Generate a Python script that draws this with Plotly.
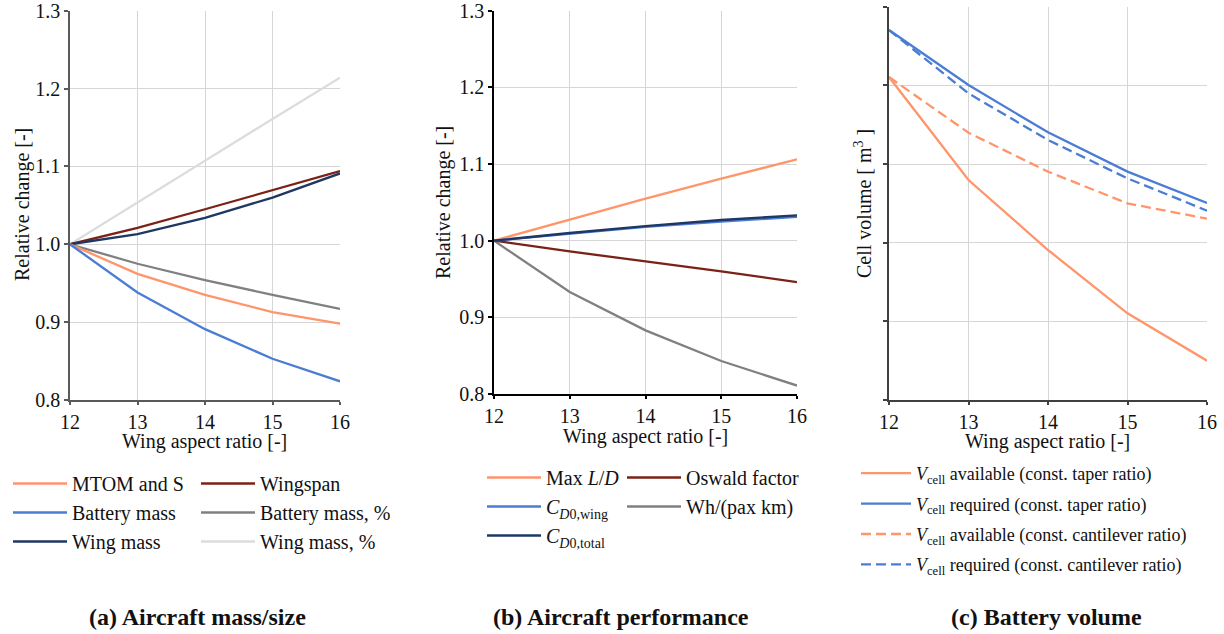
import plotly.graph_objects as go

# ---------------- data ----------------
aspect_ratio = [12, 13, 14, 15, 16]

# (a) Aircraft mass/size
mtom_and_s = [1.0, 0.962, 0.935, 0.913, 0.898]
battery_mass = [1.0, 0.938, 0.891, 0.853, 0.824]
wing_mass = [1.0, 1.013, 1.034, 1.060, 1.091]
wingspan = [1.0, 1.021, 1.045, 1.070, 1.094]
battery_mass_pct = [1.0, 0.975, 0.954, 0.935, 0.917]
wing_mass_pct = [1.0, 1.054, 1.107, 1.161, 1.214]

# (b) Aircraft performance
max_ld = [1.0, 1.028, 1.055, 1.081, 1.106]
cd0_wing = [1.0, 1.009, 1.018, 1.025, 1.031]
cd0_total = [1.0, 1.010, 1.019, 1.027, 1.033]
oswald = [1.0, 0.986, 0.973, 0.960, 0.946]
wh_pax_km = [1.0, 0.933, 0.883, 0.843, 0.811]

# (c) Battery volume (arbitrary units, no tick labels shown)
v_avail_taper = [4.106, 2.797, 1.907, 1.102, 0.500]
v_req_taper = [4.703, 4.004, 3.403, 2.903, 2.504]
v_avail_cant = [4.106, 3.398, 2.903, 2.500, 2.305]
v_req_cant = [4.703, 3.898, 3.305, 2.818, 2.407]

xticks = [12, 13, 14, 15, 16]
rel_ticks = [0.8, 0.9, 1.0, 1.1, 1.2, 1.3]

# ---------------- styles ----------------
ORANGE = "#FF956A"
BLUE = "#4A7DD3"
NAVY = "#1F3763"
DRED = "#7B2216"
GREY = "#808080"
LGREY = "#DCDCDC"
FONT = "Liberation Serif, Times New Roman, DejaVu Serif, serif"
TXT = "#111111"
DASH = "10px,5px"

W, H = 1224, 634

fig = go.Figure()
_g = [0]


def add(x, y, name, color, xa, ya, legend, dash="solid"):
    _g[0] += 1
    fig.add_trace(go.Scatter(
        x=x, y=y, mode="lines", name=name,
        line=dict(color=color, width=2.3, dash=dash),
        xaxis=xa, yaxis=ya, legend=legend, legendgroup="g%d" % _g[0],
    ))


# panel (a)
add(aspect_ratio, wing_mass_pct, "Wing mass, %", LGREY, "x", "y", "legend2")
add(aspect_ratio, battery_mass_pct, "Battery mass, %", GREY, "x", "y", "legend2")
add(aspect_ratio, wingspan, "Wingspan", DRED, "x", "y", "legend2")
add(aspect_ratio, wing_mass, "Wing mass", NAVY, "x", "y", "legend")
add(aspect_ratio, mtom_and_s, "MTOM and S", ORANGE, "x", "y", "legend")
add(aspect_ratio, battery_mass, "Battery mass", BLUE, "x", "y", "legend")

# panel (b)
add(aspect_ratio, max_ld, "Max <i>L</i>/<i>D</i>", ORANGE, "x2", "y2", "legend3")
add(aspect_ratio, wh_pax_km, "Wh/(pax km)", GREY, "x2", "y2", "legend4")
add(aspect_ratio, oswald, "Oswald factor", DRED, "x2", "y2", "legend4")
add(aspect_ratio, cd0_wing, "<i>C</i><sub><i>D</i>0,wing</sub>", BLUE, "x2", "y2", "legend3")
add(aspect_ratio, cd0_total, "<i>C</i><sub><i>D</i>0,total</sub>", NAVY, "x2", "y2", "legend3")

# panel (c)
add(aspect_ratio, v_avail_taper, "<i>V</i><sub>cell</sub> available (const. taper ratio)", ORANGE, "x3", "y3", "legend5")
add(aspect_ratio, v_req_taper, "<i>V</i><sub>cell</sub> required (const. taper ratio)", BLUE, "x3", "y3", "legend5")
add(aspect_ratio, v_avail_cant, "<i>V</i><sub>cell</sub> available (const. cantilever ratio)", ORANGE, "x3", "y3", "legend5", dash=DASH)
add(aspect_ratio, v_req_cant, "<i>V</i><sub>cell</sub> required (const. cantilever ratio)", BLUE, "x3", "y3", "legend5", dash=DASH)

# legend ordering (top to bottom) via legendrank
order = {
    "MTOM and S": 1, "Battery mass": 2, "Wing mass": 3,
    "Wingspan": 1, "Battery mass, %": 2, "Wing mass, %": 3,
    "Max <i>L</i>/<i>D</i>": 1, "<i>C</i><sub><i>D</i>0,wing</sub>": 2,
    "<i>C</i><sub><i>D</i>0,total</sub>": 3, "Oswald factor": 1, "Wh/(pax km)": 2,
}
for tr in fig.data:
    if tr.name in order:
        tr.legendrank = order[tr.name]
    elif "taper" in tr.name:
        tr.legendrank = 1 if "available" in tr.name else 2
    else:
        tr.legendrank = 3 if "available" in tr.name else 4


def px_x(p):
    return p / W


def px_y(p):
    return 1 - p / H


tickfont = dict(family=FONT, size=20, color=TXT)


def xaxis(dom, linecolor, anchor):
    return dict(
        domain=dom, anchor=anchor, range=[12, 16], tickvals=xticks,
        showgrid=True, gridcolor="#D6D6D6", gridwidth=1,
        showline=True, linecolor=linecolor, linewidth=1.5,
        ticks="outside", ticklen=3, tickcolor=linecolor, tickwidth=1.5,
        tickfont=tickfont, zeroline=False, fixedrange=True, automargin=False,
        ticklabeloverflow="allow",
    )


def yaxis(dom, linecolor, anchor, rng, tickvals, showlabels=True):
    return dict(
        domain=dom, anchor=anchor, range=rng, tickvals=tickvals,
        tickformat=".1f", showticklabels=showlabels,
        showgrid=True, gridcolor="#D6D6D6", gridwidth=1,
        showline=True, linecolor=linecolor, linewidth=1.5,
        ticks="outside", ticklen=4, tickcolor=linecolor, tickwidth=1.5,
        tickfont=tickfont, zeroline=False, fixedrange=True, automargin=False,
        ticklabeloverflow="allow",
    )


def legend(xpx, ypx, size=20, gap=6, iw=54, traceorder="normal"):
    return dict(
        x=xpx / W, y=1 - ypx / H, xref="container", yref="container",
        xanchor="left", yanchor="top", orientation="v",
        font=dict(family=FONT, size=size, color=TXT),
        bgcolor="rgba(0,0,0,0)", traceorder=traceorder,
        tracegroupgap=gap, itemwidth=iw,
    )


fig.update_layout(
    width=W, height=H,
    margin=dict(l=0, r=0, t=0, b=0, autoexpand=False),
    paper_bgcolor="white", plot_bgcolor="white",
    font=dict(family=FONT, size=20, color=TXT),
    xaxis=xaxis([px_x(70), px_x(340)], "#5A5A5A", "y"),
    yaxis=yaxis([px_y(400), px_y(10.7)], "#5A5A5A", "x", [0.8, 1.3], rel_ticks),
    xaxis2=xaxis([px_x(494), px_x(797)], "#000000", "y2"),
    yaxis2=yaxis([px_y(394), px_y(10.7)], "#000000", "x2", [0.8, 1.3], rel_ticks),
    xaxis3=xaxis([px_x(889), px_x(1207)], "#404040", "y3"),
    yaxis3=yaxis([px_y(400), px_y(6.7)], "#404040", "x3", [0, 5], [0, 1, 2, 3, 4, 5], showlabels=False),
    legend=legend(8, 464),
    legend2=legend(196, 464),
    legend3=legend(482, 458),
    legend4=legend(622, 458),
    legend5=legend(856, 455, size=18, gap=4, iw=50, traceorder="grouped"),
    showlegend=True,
)

annots = [
    # x-axis titles
    dict(text="Wing aspect ratio [-]", x=205, y=441, size=20, angle=0),
    dict(text="Wing aspect ratio [-]", x=645, y=436, size=20, angle=0),
    dict(text="Wing aspect ratio [-]", x=1047, y=441, size=20, angle=0),
    # y-axis titles
    dict(text="Relative change [-]", x=22, y=205, size=20, angle=-90),
    dict(text="Relative change [-]", x=443, y=203, size=20, angle=-90),
    dict(text="Cell volume [ m<sup>3</sup> ]", x=863, y=204, size=20, angle=-90),
    # sub-captions
    dict(text="<b>(a) Aircraft mass/size</b>", x=197, y=617, size=24, angle=0),
    dict(text="<b>(b) Aircraft performance</b>", x=621, y=617, size=24, angle=0),
    dict(text="<b>(c) Battery volume</b>", x=1046, y=617, size=24, angle=0),
]
for a in annots:
    fig.add_annotation(
        text=a["text"], x=px_x(a["x"]), y=px_y(a["y"]), xref="paper", yref="paper",
        xanchor="center", yanchor="middle", showarrow=False, textangle=a["angle"],
        font=dict(family=FONT, size=a["size"], color=TXT),
    )

fig.write_html("out.html", config={"displayModeBar": False})
